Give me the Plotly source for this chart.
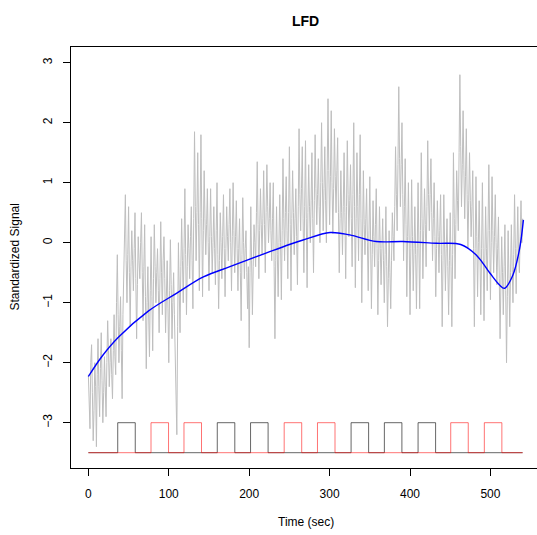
import plotly.graph_objects as go

# ---------------- data ----------------
signal_step = 1  # seconds between samples
signal_values = [
    -2.2, -2.6, -3.1, -2.0, -1.7, -2.5, -3.3, -2.8, -2.0, -2.4,
    -3.4, -2.2, -1.6, -2.4, -2.9, -2.1, -1.5, -2.3, -3.0, -2.5,
    -1.9, -2.4, -2.9, -2.0, -1.3, -1.8, -2.4, -2.0, -1.6, -2.2,
    -2.6, -1.8, -1.2, -1.9, -2.2, -1.0, -0.2, -1.2, -2.0, -1.4,
    -0.9, -1.8, -2.6, -1.2, -0.3, 0.2, 0.8, -0.3, -1.0, -0.2,
    0.6, -0.5, -1.4, -0.4, 0.2, -0.3, -0.8, -0.1, 0.5, -0.6,
    -1.6, -0.7, 0.1, -0.3, -0.6, 0.0, 0.5, -0.5, -1.3, -0.4,
    0.3, -0.9, -2.1, -1.0, -0.4, -1.2, -1.9, -0.8, 0.1, -0.9,
    -1.8, -0.6, 0.3, -0.4, -1.0, -0.5, -0.1, -0.8, -1.5, -0.6,
    0.35, -0.5, -1.2, -0.3, 0.1, -0.6, -1.5, -0.9, -0.3, -1.1,
    -2.0, -0.8, 0.05, -0.7, -1.6, -1.0, -0.5, -1.2, -1.9, -2.4,
    -3.2, -1.4, 0.0, -0.8, -1.5, -0.4, 0.4, -0.3, -1.0, -0.1,
    0.9, -0.2, -1.2, -0.4, 0.3, -0.1, -0.6, 0.1, 0.6, -0.3,
    -1.1, 0.4, 1.85, 0.6, -0.3, 0.5, 1.5, 0.3, -0.8, 0.5,
    1.8, 0.4, -0.9, 0.2, 1.2, 0.4, -0.2, 0.3, 0.9, 0.0,
    -0.8, 0.1, 0.9, 0.1, -0.5, 0.0, 0.6, -0.1, -0.7, 0.2,
    1.0, -0.2, -1.1, -0.3, 0.5, 0.0, -0.6, 0.1, 0.8, -0.1,
    -0.9, -0.1, 0.6, 0.1, -0.3, 0.3, 0.9, 0.0, -0.8, 0.1,
    1.0, 0.2, -0.5, 0.1, 0.7, -0.1, -0.8, -0.1, 0.4, -0.5,
    -1.3, -0.2, 0.75, 0.0, -0.6, -0.1, 0.2, -0.5, -1.1, -0.4,
    -1.75, -0.5, 0.6, -0.3, -1.2, -0.4, 0.3, 0.0, -0.4, 0.5,
    1.35, 0.3, -0.6, 0.2, 0.9, 0.3, -0.2, 0.4, 1.2, 0.3,
    -0.5, 0.5, 1.3, 0.6, 0.0, 0.4, 1.0, 0.2, -0.3, 0.4,
    1.0, -0.4, -1.6, -0.3, 0.6, -0.2, -0.9, 0.0, 0.8, 0.0,
    -0.95, 0.2, 1.4, 0.4, -0.3, 0.5, 1.1, 0.2, -0.6, 0.5,
    1.6, 0.3, -0.8, 0.4, 1.2, 0.5, -0.2, 0.4, 0.9, 0.1,
    -0.7, 0.6, 1.9, 0.8, 0.2, 0.9, 1.6, 0.4, -0.5, 0.6,
    1.7, 0.4, -0.75, 0.5, 1.3, 0.6, 0.0, 0.7, 1.5, 0.4,
    -0.5, 0.7, 1.8, 0.9, 0.3, 0.8, 1.4, 0.6, 0.0, 1.0,
    2.0, 1.0, 0.2, 0.9, 1.6, 0.7, 0.0, 1.2, 2.4, 1.2,
    0.3, 1.1, 2.2, 1.0, 0.15, 0.9, 1.9, 1.1, 0.5, 1.2,
    1.75, 0.5, -0.5, 0.4, 1.2, 0.5, -0.2, 0.6, 1.5, 0.5,
    -0.6, 0.6, 1.7, 0.8, 0.1, 0.7, 1.3, 0.4, -0.4, 0.8,
    2.0, 0.6, -0.75, 0.4, 1.5, 0.6, -0.3, 0.8, 1.8, 0.4,
    -1.0, 0.1, 1.2, 0.3, -0.2, 0.4, 0.9, 0.0, -0.8, 0.2,
    1.1, 0.0, -1.1, -0.2, 0.7, 0.1, -0.4, 0.3, 0.9, -0.1,
    -1.2, -0.3, 0.6, -0.1, -0.7, -0.1, 0.4, -0.3, -1.0, -0.2,
    0.6, -0.4, -1.4, -0.6, 0.2, -0.5, -1.1, -0.3, 0.5, 0.1,
    -0.3, 0.6, 1.6, 0.8, 0.2, 1.3, 2.6, 1.4, 0.6, 1.3,
    2.0, 0.8, -0.3, 0.6, 1.4, 0.3, -0.9, 0.1, 1.0, 0.0,
    -1.2, -0.1, 1.05, 0.1, -0.8, -0.1, 0.6, -0.2, -1.1, -0.1,
    1.0, 0.0, -1.1, 0.2, 1.5, 0.4, -0.6, 0.2, 0.9, 0.3,
    -0.4, 0.6, 1.7, 0.8, 0.2, 0.8, 1.4, 0.5, -0.3, 0.4,
    1.0, 0.1, -0.9, -0.1, 0.7, 0.1, -0.5, 0.2, 0.8, -0.2,
    -1.4, -0.3, 0.8, 0.0, -0.8, -0.1, 0.4, -0.4, -1.2, -0.3,
    0.5, -0.4, -1.4, -0.2, 1.5, 0.4, -0.6, 0.3, 1.2, 0.7,
    0.2, 1.5, 2.8, 1.6, 0.6, 1.3, 2.2, 1.2, 0.4, 1.1,
    1.9, 0.8, -0.1, 0.7, 1.5, 0.7, 0.1, 0.6, 1.2, -0.1,
    -1.4, -0.1, 1.1, 0.1, -0.9, 0.0, 0.7, -0.2, -1.2, -0.1,
    1.0, -0.1, -1.3, -0.3, 0.6, -0.1, -0.8, 0.2, 1.3, 0.2,
    -0.95, 0.0, 1.1, 0.2, -0.5, 0.1, 0.8, 0.0, -0.7, -0.1,
    0.43, -0.6, -1.6, -0.7, 0.1, -0.5, -1.2, -0.4, 0.3, -0.8,
    -2.0, -0.9, 0.2, -0.6, -1.4, -0.5, 0.3, -0.4, -1.0, -0.2,
    0.8, -0.1, -0.85, -0.1, 0.6, -0.2, -0.5, 0.1, 0.7, 0.0,
    0.4,
]
signal_time = [i * signal_step for i in range(len(signal_values))]

fit_time = [0, 16.6, 37, 74.5, 110, 143, 176, 221.6, 250, 267, 300.6, 325,
            358, 391, 433, 463, 482, 499, 511, 517.5, 527.6, 536, 541]
fit_values = [-2.23, -1.9, -1.58, -1.14, -0.84, -0.57, -0.40, -0.17, -0.03,
              0.045, 0.17, 0.13, 0.02, 0.02, -0.01, -0.03, -0.2, -0.5, -0.7,
              -0.76, -0.55, -0.12, 0.38]

cond1_onsets = [36.5, 160.3, 201.7, 326.7, 368.1, 410.0]   # black blocks
cond2_onsets = [77.9, 118.9, 243.5, 284.9, 450.6, 492.4]   # red blocks
block_duration = 21.8
run_end = 540
stim_low = -3.5
stim_high = -3.0

x_ticks = [0, 100, 200, 300, 400, 500]
y_ticks = [-3, -2, -1, 0, 1, 2, 3]


def boxcar(onsets):
    xs, ys = [0], [stim_low]
    for on in onsets:
        off = on + block_duration
        xs += [on, on, off, off]
        ys += [stim_low, stim_high, stim_high, stim_low]
    xs.append(run_end)
    ys.append(stim_low)
    return xs, ys


FONT = "Liberation Sans, Arial, Helvetica, sans-serif"

fig = go.Figure()
fig.add_trace(go.Scatter(x=signal_time, y=signal_values, mode="lines",
                         line=dict(color="#bebebe", width=1), name="signal"))
fig.add_trace(go.Scatter(x=fit_time, y=fit_values, mode="lines",
                         line=dict(color="#0000ff", width=1.4, shape="spline", smoothing=1.0),
                         name="fit"))
bx, by = boxcar(cond1_onsets)
fig.add_trace(go.Scatter(x=bx, y=by, mode="lines",
                         line=dict(color="rgba(0,0,0,0.6)", width=1), name="cond1"))
rx, ry = boxcar(cond2_onsets)
fig.add_trace(go.Scatter(x=rx, y=ry, mode="lines",
                         line=dict(color="rgba(255,0,0,0.55)", width=1), name="cond2"))

fig.update_layout(
    width=537, height=535,
    margin=dict(l=71, r=0, t=47, b=67),
    paper_bgcolor="white", plot_bgcolor="white",
    showlegend=False,
    font=dict(family=FONT, size=12, color="black"),
    title=dict(text="<b>LFD</b>", x=305.5 / 537, xanchor="center",
               y=1 - 21 / 535, yanchor="middle", yref="container",
               font=dict(family=FONT, size=14, color="black")),
    xaxis=dict(range=[-21.6, 557.9], tickvals=x_ticks, ticks="outside",
               ticklen=7, tickwidth=1, tickcolor="black",
               showline=True, linecolor="black", linewidth=1, mirror=True,
               showgrid=False, zeroline=False, ticklabelstandoff=8,
               tickfont=dict(family=FONT, size=12, color="black")),
    yaxis=dict(range=[-3.755, 3.262], tickvals=y_ticks, ticks="outside",
               ticklen=7, tickwidth=1, tickcolor="black",
               showline=True, linecolor="black", linewidth=1,
               showgrid=False, zeroline=False, tickangle=-90,
               ticklabelstandoff=6,
               tickfont=dict(family=FONT, size=12, color="black")),
    annotations=[
        dict(text="Time (sec)", xref="paper", yref="paper",
             x=(305.5 - 71) / 466, y=0, yshift=-54, xanchor="center",
             yanchor="middle", showarrow=False,
             font=dict(family=FONT, size=12, color="black")),
        dict(text="Standardized Signal", xref="paper", yref="paper",
             x=0, y=0.5, xshift=-57, xanchor="center", yanchor="middle",
             textangle=-90, showarrow=False,
             font=dict(family=FONT, size=12, color="black")),
    ],
)

fig.write_html("out.html")
